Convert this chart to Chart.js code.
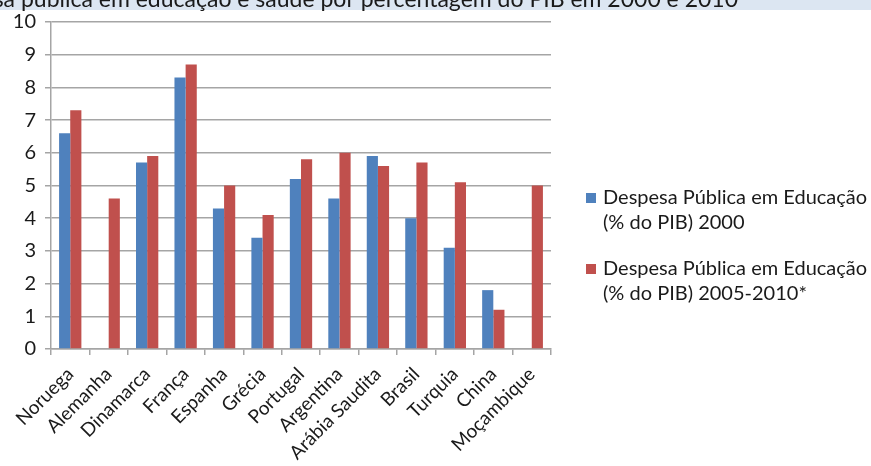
<!DOCTYPE html>
<html>
<head>
<meta charset="utf-8">
<script src="https://cdn.jsdelivr.net/npm/chart.js@4"></script>
<style>
  html, body { margin: 0; padding: 0; background: #fff; }
  #wrap { position: relative; width: 871px; height: 466px; }
</style>
</head>
<body>
<div id="wrap"><canvas id="c" width="871" height="466"></canvas></div>
<script>
const titleText = 'Despesa pública em educação e saúde por percentagem do PIB em 2000 e 2010';
const countries = ['Noruega', 'Alemanha', 'Dinamarca', 'França', 'Espanha', 'Grécia', 'Portugal',
  'Argentina', 'Arábia Saudita', 'Brasil', 'Turquia', 'China', 'Moçambique'];
const series2000 = [6.6, null, 5.7, 8.3, 4.3, 3.4, 5.2, 4.6, 5.9, 4.0, 3.1, 1.8, null];
const series2010 = [7.3, 4.6, 5.9, 8.7, 5.0, 4.1, 5.8, 6.0, 5.6, 5.7, 5.1, 1.2, 5.0];
const seriesNames = [
  ['Despesa Pública em Educação', '(% do PIB) 2000'],
  ['Despesa Pública em Educação', '(% do PIB) 2005-2010*']
];
const yTicks = [0, 1, 2, 3, 4, 5, 6, 7, 8, 9, 10];

const FONT = 'Lato, "Open Sans", sans-serif';
const BLUE = '#4f81bd';
const RED = '#c0504d';
const GRID = '#a5a5a5';

// Header strip with the (partly cut) title
const headerPlugin = {
  id: 'header',
  beforeDraw(chart) {
    const ctx = chart.ctx;
    ctx.save();
    ctx.fillStyle = '#dce6f2';
    ctx.fillRect(0, 0, chart.width, 10);
    ctx.fillStyle = '#1a1a1a';
    ctx.font = '23px ' + FONT;
    ctx.textAlign = 'right';
    ctx.textBaseline = 'alphabetic';
    ctx.fillText(titleText, 738, 7);
    ctx.restore();
  }
};

// Two-line legend on the right
const sideLegend = {
  id: 'sideLegend',
  afterDraw(chart) {
    const ctx = chart.ctx;
    const colors = [BLUE, RED];
    const rows = [198, 269];
    ctx.save();
    ctx.font = '20px ' + FONT;
    ctx.textBaseline = 'middle';
    ctx.textAlign = 'left';
    seriesNames.forEach((lines, i) => {
      const y = rows[i];
      ctx.fillStyle = colors[i];
      ctx.fillRect(586, y - 5, 10, 10);
      ctx.fillStyle = '#1a1a1a';
      lines.forEach((t, j) => ctx.fillText(t, 603, y + j * 25));
    });
    ctx.restore();
  }
};

new Chart(document.getElementById('c'), {
  type: 'bar',
  data: {
    labels: countries,
    datasets: [
      { label: seriesNames[0].join(' '), data: series2000, backgroundColor: BLUE },
      { label: seriesNames[1].join(' '), data: series2010, backgroundColor: RED }
    ]
  },
  options: {
    responsive: false,
    animation: false,
    devicePixelRatio: 1,
    layout: { padding: { top: 22, right: 320, left: 0, bottom: 0 } },
    plugins: {
      legend: { display: false },
      tooltip: { enabled: false }
    },
    datasets: { bar: { categoryPercentage: 0.58, barPercentage: 1 } },
    scales: {
      y: {
        min: 0, max: 10,
        afterBuildTicks(scale) { scale.ticks = yTicks.map(v => ({ value: v })); },
        afterFit(scale) { scale.width = 51; },
        ticks: { color: '#1a1a1a', font: { family: FONT, size: 20 }, padding: 9 },
        grid: { color: GRID, lineWidth: 1.5, tickLength: 6, tickColor: GRID },
        border: { color: GRID, width: 1.5 }
      },
      x: {
        afterFit(scale) { scale.height = 117; },
        ticks: {
          color: '#1a1a1a', font: { family: FONT, size: 19 },
          minRotation: 45, maxRotation: 45, autoSkip: false, padding: 8
        },
        grid: { drawOnChartArea: false, drawTicks: true, tickLength: 6, color: GRID, lineWidth: 1.5, offset: true },
        border: { color: GRID, width: 1.5 }
      }
    }
  },
  plugins: [headerPlugin, sideLegend]
});
</script>
</body>
</html>
